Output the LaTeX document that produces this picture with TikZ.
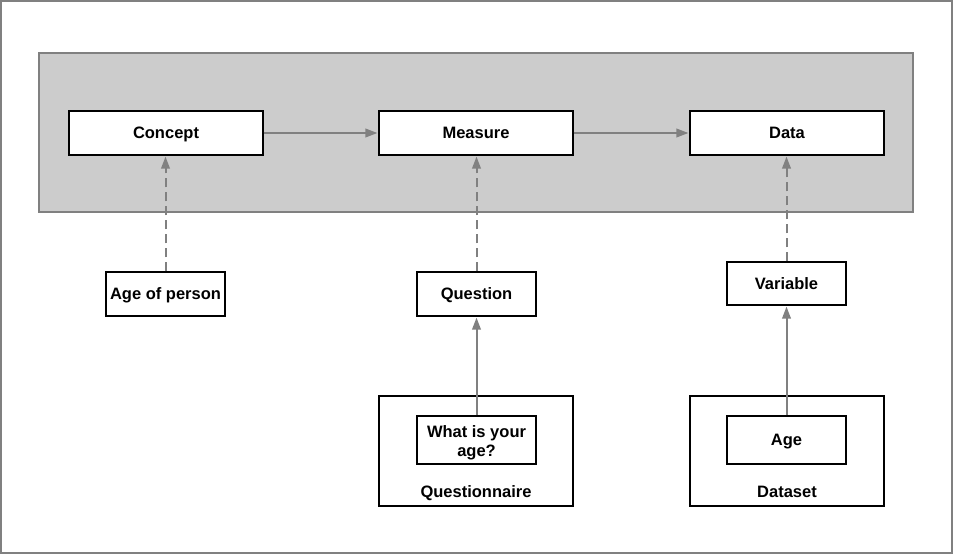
\documentclass[tikz,border=0pt]{standalone}
\usepackage{fontspec}
\setmainfont{Liberation Sans}
\usepackage{xcolor}
\usepackage{tikz}
\usetikzlibrary{arrows.meta, positioning, calc}
\definecolor{edgegray}{HTML}{808080}
\definecolor{bandgray}{HTML}{CCCCCC}
\tikzset{
  box/.style={draw=black, line width=1.1pt, fill=white, minimum width=194pt, minimum height=44pt, inner sep=0pt, text height=12pt, text depth=1pt, font=\fontsize{16.5}{19}\selectfont\bfseries},
  smallbox/.style={box, minimum width=119pt},
  frame/.style={draw=black, line width=1.1pt, fill=white, minimum width=194pt, minimum height=110pt, inner sep=0pt},
  tag/.style={text height=12pt, text depth=1pt, font=\fontsize{16.5}{19}\selectfont\bfseries},
  flow/.style={draw=edgegray, line width=2pt, -{Triangle[length=12pt, width=8.5pt]}, shorten >=1pt},
  link/.style={flow, dash pattern=on 9pt off 5pt}
}

\begin{document}
\begin{tikzpicture}[x=1pt, y=-1pt]
\useasboundingbox (0,0) rectangle (953,554);
% Outer frame and grey band
\draw[edgegray, line width=2pt] (1,1) rectangle (952,553);
\draw[edgegray, fill=bandgray, line width=1.2pt] (39,53) rectangle (913,212);

% Top row
\node[box] (concept) at (166,133) {Concept};
\node[box] (measure) at (476,133) {Measure};
\node[box] (data) at (787,133) {Data};

% Middle row
\node[smallbox] (person) at (165.5,294) {Age of person};
\node[smallbox] (question) at (476.5,294) {Question};
\node[smallbox, minimum height=43pt] (variable) at (786.5,283.5) {Variable};

% Containers
\node[frame] (questionnaire) at (476,451) {};
\node[frame] (dataset) at (787,451) {};
\node[tag] (qtag) at (476,492) {Questionnaire};
\node[tag] (dtag) at (787,492) {Dataset};
\node[smallbox, minimum height=48pt, align=center, text height=, text depth=] (item) at (476.5,440) {\rule{0pt}{17pt}What is your\\age?};
\node[smallbox, minimum height=48pt] (age) at (786.5,440) {Age};

% Connectors
\draw[flow] (concept) -- (measure);
\draw[flow] (measure) -- (data);
\draw[link] (person) -- (concept.south -| person);
\draw[link] (question) -- (measure.south -| question);
\draw[link] (variable) -- (data.south -| variable);
\draw[flow] (item) -- (question);
\draw[flow] (age) -- (variable);

\end{tikzpicture}
\end{document}
